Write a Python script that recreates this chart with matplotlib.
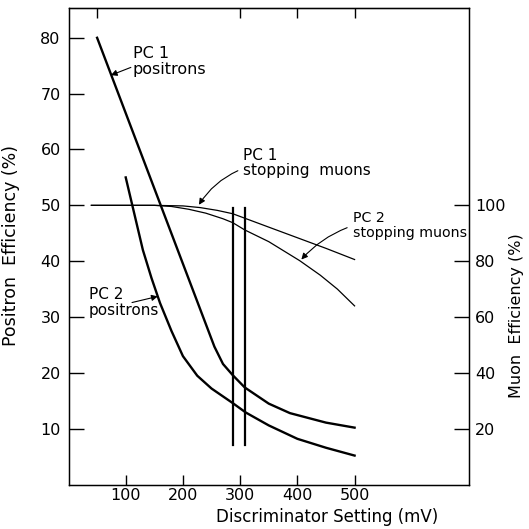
import matplotlib
matplotlib.use("Agg")
import matplotlib.pyplot as plt

# Discriminator setting (mV) vs efficiency
pc1_pos_x = [50, 255, 270, 287, 308, 350, 387, 450, 500]
pc1_pos_y = [80, 24.7, 21.6, 19.6, 17.4, 14.5, 12.8, 11.1, 10.2]

pc2_pos_x = [100, 115, 130, 145, 160, 180, 200, 225, 250, 287, 310, 350, 400, 450, 500]
pc2_pos_y = [55, 48.5, 42, 37, 32.5, 27.5, 23, 19.5, 17.2, 14.6, 12.9, 10.6, 8.2, 6.6, 5.2]

# muon efficiencies (right axis, %)
pc1_mu_x = [40, 150, 200, 230, 260, 287, 308, 350, 400, 450, 500]
pc1_mu_y = [100, 100, 99.8, 99.2, 98.2, 97, 95.4, 92.2, 88.4, 84.6, 80.6]

pc2_mu_x = [40, 150, 180, 210, 240, 270, 287, 308, 350, 404, 440, 470, 500]
pc2_mu_y = [100, 100, 99.6, 98.6, 97.2, 95.2, 93.8, 91.2, 87, 80.2, 75, 70, 64]

# operating points (vertical markers)
cut_x = [287, 308]
cut_lo, cut_hi = 7.1, 49.6

left_ticks = [10, 20, 30, 40, 50, 60, 70, 80]
right_ticks = [20, 40, 60, 80, 100]
bottom_ticks = [100, 200, 300, 400, 500]
top_ticks = [50, 300, 400, 500]

YMAX = 85.25

fig = plt.figure(figsize=(5.29, 5.29), dpi=100)
ax = fig.add_axes([0.1295, 0.0839, 0.8866 - 0.1295, 0.984 - 0.0839])

ax.plot(pc1_pos_x, pc1_pos_y, color='black', lw=1.7)
ax.plot(pc2_pos_x, pc2_pos_y, color='black', lw=1.7)
for cx in cut_x:
    ax.plot([cx, cx], [cut_lo, cut_hi], color='black', lw=1.6)

ax.set_xlim(0, 700)
ax.set_ylim(0, YMAX)
ax.set_xticks(bottom_ticks)
ax.set_yticks(left_ticks)
ax.tick_params(axis='y', direction='in', length=11, width=1.0, pad=5.6, labelsize=11.5)
ax.tick_params(axis='x', direction='in', length=7, width=1.0, pad=2.6, labelsize=11.5)
for sp in ax.spines.values():
    sp.set_linewidth(1.0)

# top ticks without labels
axt = ax.secondary_xaxis('top')
axt.set_xticks(top_ticks)
axt.tick_params(direction='in', length=7, width=1.0, labeltop=False)

ax.set_xlabel("Discriminator Setting (mV)", fontsize=12)
ax.xaxis.set_label_coords(0.645, -0.049)
ax.set_ylabel("Positron  Efficiency (%)", fontsize=12.5)
ax.yaxis.set_label_coords(-0.121, 0.503)

# muon axis on the right
ax2 = ax.twinx()
ax2.plot(pc1_mu_x, pc1_mu_y, color='black', lw=0.9)
ax2.plot(pc2_mu_x, pc2_mu_y, color='black', lw=0.9)
ax2.set_ylim(0, 2 * YMAX)
ax2.set_yticks(right_ticks)
ax2.tick_params(axis='y', direction='in', length=11, width=1.0, pad=4.3, labelsize=11.5)
ax2.set_ylabel("Muon  Efficiency (%)", fontsize=11.5)
ax2.yaxis.set_label_coords(1.1, 0.354)

# labels and arrows
arrow = dict(arrowstyle='-|>', color='black', lw=0.8, mutation_scale=9, shrinkA=0, shrinkB=0)

ax.text(112, 78.5, "PC 1\npositrons", fontsize=11.5, ha='left', va='top', linespacing=1.05)
ax.annotate('', xy=(74, 73.3), xytext=(109, 74.7), arrowprops=arrow)

ax.text(305, 60.3, "PC 1\nstopping  muons", fontsize=11, ha='left', va='top', linespacing=1.05)
ax.annotate('', xy=(228, 50.1), xytext=(296, 56.2),
            arrowprops=dict(arrow, connectionstyle='arc3,rad=0.15'))

ax.text(497, 48.9, "PC 2\nstopping muons", fontsize=10.2, ha='left', va='top', linespacing=1.05)
ax.annotate('', xy=(407, 40.3), xytext=(487, 46),
            arrowprops=dict(arrow, connectionstyle='arc3,rad=0.12'))

ax.text(35, 35.3, "PC 2\npositrons", fontsize=11, ha='left', va='top', linespacing=1.05)
ax.annotate('', xy=(156, 33.7), xytext=(111, 32.6), arrowprops=arrow)

fig.savefig("out.png", dpi=100)
plt.close(fig)
